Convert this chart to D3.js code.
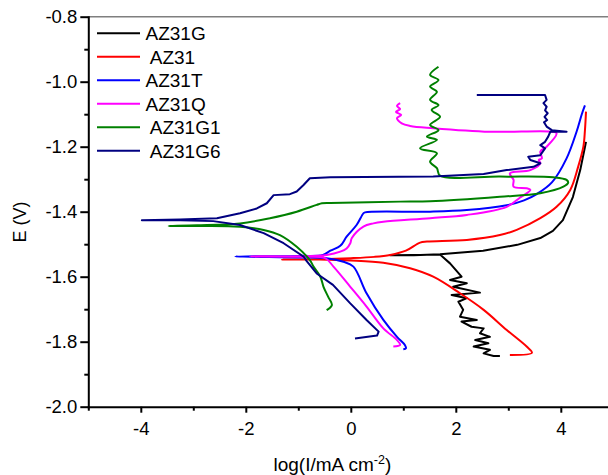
<!DOCTYPE html>
<meta charset="utf-8">
<style>
body { margin: 0; background: #fff; font-family: Arial, "Liberation Sans", sans-serif; }
.axis path, .axis line { stroke: #000; stroke-width: 2; }
.axis path { stroke-linecap: square; }
.axis text { font-family: Arial, "Liberation Sans", sans-serif; font-size: 18.5px; fill: #000; }
.curve { fill: none; stroke-width: 2; stroke-linejoin: round; }
.legend text { font-size: 19px; fill: #000; white-space: pre; }
</style>
<body>
<svg id="tafel" width="608" height="475"></svg>

<script src="https://d3js.org/d3.v7.min.js"></script>
<script>

// series names, in legend order (leading spaces as in the original legend)
var seriesNames = ["AZ31G", " AZ31", "AZ31T", "AZ31Q", " AZ31G1", " AZ31G6"];
var seriesColors = ["#000000", "#ff0000", "#0000ff", "#ff00ff", "#008000", "#000080"];

// [log(I), E], in scan order (cathodic -> Ecorr -> anodic)
var az31g = [
  [2.84,-1.844],[2.72,-1.844],[2.53,-1.836],[2.65,-1.825],[2.34,-1.815],[2.62,-1.805],
  [2.37,-1.795],[2.65,-1.785],[2.46,-1.774],[2.53,-1.759],[2.30,-1.754],[2.11,-1.738],
  [2.40,-1.733],[2.08,-1.723],[2.14,-1.702],[2.05,-1.677],[2.21,-1.666],[1.92,-1.656],
  [2.46,-1.649],[1.95,-1.631],[2.21,-1.620],[1.89,-1.610],[2.11,-1.600],[1.89,-1.559],
  [1.70,-1.532],[1.20,-1.533],[0.75,-1.534],[1.20,-1.534],[1.70,-1.531],[2.52,-1.520],
  [3.17,-1.502],[3.61,-1.481],[3.85,-1.459],[4.04,-1.426],[4.23,-1.355],[4.37,-1.272],
  [4.46,-1.201],[4.48,-1.185]
];
var az31 = [
  [3.03,-1.841],[3.45,-1.834],[3.35,-1.815],[2.97,-1.764],[2.53,-1.702],[2.08,-1.651],
  [1.57,-1.600],[1.13,-1.574],[0.62,-1.557],[0.00,-1.550],[-0.60,-1.547],[-1.31,-1.547],
  [-0.60,-1.546],[0.00,-1.543],[0.45,-1.539],[0.75,-1.533],[1.05,-1.520],[1.32,-1.495],
  [1.45,-1.492],[2.21,-1.487],[2.84,-1.472],[3.16,-1.456],[3.61,-1.420],[3.92,-1.385],
  [4.18,-1.333],[4.33,-1.262],[4.43,-1.200],[4.46,-1.149],[4.48,-1.092]
];
var az31t = [
  [1.00,-1.823],[1.05,-1.820],[1.03,-1.810],[0.88,-1.785],[0.62,-1.733],[0.30,-1.651],
  [0.05,-1.569],[-0.14,-1.554],[-0.46,-1.543],[-0.97,-1.541],[-2.20,-1.538],[-0.97,-1.536],
  [-0.53,-1.533],[-0.39,-1.520],[-0.20,-1.505],[-0.08,-1.477],[0.11,-1.441],[0.24,-1.405],
  [0.27,-1.402],[1.51,-1.400],[2.21,-1.395],[2.97,-1.380],[3.30,-1.365],[3.55,-1.345],
  [3.83,-1.310],[4.11,-1.236],[4.30,-1.154],[4.40,-1.100],[4.46,-1.073]
];
var az31q = [
  [0.81,-1.815],[0.94,-1.810],[0.88,-1.795],[0.62,-1.759],[0.30,-1.692],[-0.01,-1.631],
  [-0.33,-1.569],[-0.49,-1.543],[-0.97,-1.539],[-1.92,-1.538],[-0.97,-1.537],[-0.46,-1.533],
  [-0.20,-1.523],[-0.08,-1.513],[-0.01,-1.497],[0.02,-1.481],[0.24,-1.446],[0.43,-1.436],
  [0.62,-1.431],[1.51,-1.420],[2.21,-1.410],[2.97,-1.385],[3.22,-1.357],[3.42,-1.333],
  [3.35,-1.328],[3.10,-1.323],[3.10,-1.302],[3.03,-1.282],[3.42,-1.272],[3.61,-1.251],
  [3.58,-1.241],[3.64,-1.236],[3.61,-1.215],[3.73,-1.200],[3.92,-1.159],[3.86,-1.154],
  [2.65,-1.154],[1.57,-1.143],[1.13,-1.136],[0.97,-1.128],[0.88,-1.112],[0.96,-1.102],
  [0.86,-1.093],[0.94,-1.084],[0.88,-1.075],[0.94,-1.066]
];
var az31g1 = [
  [-0.46,-1.703],[-0.36,-1.687],[-0.43,-1.662],[-0.52,-1.631],[-0.58,-1.600],[-0.71,-1.569],
  [-0.78,-1.549],[-1.03,-1.508],[-1.35,-1.472],[-1.66,-1.456],[-2.11,-1.446],[-2.93,-1.444],
  [-3.47,-1.444],[-2.93,-1.442],[-2.11,-1.436],[-1.54,-1.420],[-1.03,-1.400],[-0.65,-1.379],
  [-0.55,-1.374],[-0.39,-1.373],[0.94,-1.369],[1.51,-1.368],[2.84,-1.354],[3.61,-1.343],
  [4.05,-1.323],[4.14,-1.311],[4.11,-1.302],[3.86,-1.294],[2.84,-1.292],[1.70,-1.289],
  [1.64,-1.266],[1.51,-1.246],[1.64,-1.220],[1.32,-1.205],[1.64,-1.179],[1.45,-1.169],
  [1.67,-1.149],[1.51,-1.133],[1.70,-1.108],[1.54,-1.087],[1.67,-1.072],[1.51,-1.056],
  [1.64,-1.031],[1.51,-1.015],[1.67,-0.995],[1.51,-0.979],[1.67,-0.954]
];
var az31g6 = [
  [0.08,-1.790],[0.50,-1.781],[0.53,-1.769],[0.30,-1.733],[-0.01,-1.682],[-0.34,-1.625],
  [-0.65,-1.590],[-0.84,-1.552],[-0.90,-1.538],[-1.28,-1.497],[-1.66,-1.466],[-2.11,-1.441],
  [-2.62,-1.429],[-3.25,-1.426],[-3.98,-1.426],[-3.25,-1.424],[-2.55,-1.420],[-2.11,-1.405],
  [-1.79,-1.390],[-1.60,-1.374],[-1.47,-1.349],[-1.16,-1.346],[-1.03,-1.338],[-0.90,-1.318],
  [-0.78,-1.297],[-0.39,-1.294],[1.57,-1.292],[2.53,-1.284],[2.97,-1.272],[3.48,-1.262],
  [3.61,-1.251],[3.42,-1.241],[3.38,-1.231],[3.61,-1.226],[3.70,-1.205],[3.61,-1.195],
  [3.70,-1.185],[3.76,-1.169],[3.80,-1.154],[4.11,-1.154],[3.83,-1.149],[3.73,-1.138],
  [3.68,-1.125],[3.74,-1.118],[3.69,-1.108],[3.75,-1.097],[3.70,-1.088],[3.73,-1.077],
  [3.67,-1.066],[3.73,-1.056],[3.70,-1.041],[2.40,-1.041]
];
var seriesData = [az31g, az31, az31t, az31q, az31g1, az31g6];

var yTicks = [-2.0, -1.8, -1.6, -1.4, -1.2, -1.0, -0.8];
var yMinor = [-1.9, -1.7, -1.5, -1.3, -1.1, -0.9];
var xTicks = [-4, -2, 0, 2, 4];
var xMinor = [-5, -3, -1, 1, 3];

var svg = d3.select("#tafel"),
    margin = {top: 16.7, left: 88.3},
    plotW = 525,
    plotH = 390;

var x = d3.scaleLinear()
    .domain([-5, 5])
    .range([margin.left, margin.left + plotW]);
var y = d3.scaleLinear()
    .domain([-2.0, -0.8])
    .range([margin.top + plotH, margin.top]);

// grey top frame
svg.append("line")
    .attr("x1", x(-5)).attr("x2", x(5))
    .attr("y1", y(-0.8)).attr("y2", y(-0.8))
    .attr("stroke", "#7f7f7f")
    .attr("stroke-width", 1.6);

// minor ticks
svg.append("g")
    .attr("class", "axis")
    .attr("transform", "translate(" + x(-5) + ",0)")
    .call(d3.axisLeft(y).tickValues(yMinor).tickSize(4).tickFormat(""))
    .select(".domain").remove();
svg.append("g")
    .attr("class", "axis")
    .attr("transform", "translate(0," + y(-2.0) + ")")
    .call(d3.axisBottom(x).tickValues(xMinor).tickSize(4).tickFormat(""))
    .select(".domain").remove();

// major axes
svg.append("g")
    .attr("class", "axis")
    .attr("transform", "translate(" + x(-5) + ",0)")
    .call(d3.axisLeft(y).tickValues(yTicks).tickSize(8).tickPadding(3).tickSizeOuter(0)
        .tickFormat(function(d) { return d.toFixed(1); }));
svg.append("g")
    .attr("class", "axis")
    .attr("transform", "translate(0," + y(-2.0) + ")")
    .call(d3.axisBottom(x).tickValues(xTicks).tickSize(6).tickPadding(9).tickSizeOuter(0)
        .tickFormat(function(d) { return String(d); }));

// curves: noisy / sharp-cornered traces (AZ31G, AZ31G6) stay linear, the rest are smoothed
var lineSharp = d3.line()
    .x(function(d) { return x(d[0]); })
    .y(function(d) { return y(d[1]); });
var lineSmooth = d3.line()
    .curve(d3.curveCatmullRom.alpha(0.5))
    .x(function(d) { return x(d[0]); })
    .y(function(d) { return y(d[1]); });

svg.selectAll("path.curve")
    .data(seriesData)
    .enter().append("path")
    .attr("class", "curve")
    .attr("d", function(d, i) { return (i === 0 || i === 5) ? lineSharp(d) : lineSmooth(d); })
    .attr("stroke", function(d, i) { return seriesColors[i]; });

// legend
var legend = svg.append("g").attr("class", "legend");
var rows = legend.selectAll("g")
    .data(seriesNames)
    .enter().append("g")
    .attr("transform", function(d, i) { return "translate(97," + (33.3 + i * 23.5) + ")"; });
rows.append("line")
    .attr("x1", 0).attr("x2", 43)
    .attr("stroke", function(d, i) { return seriesColors[i]; })
    .attr("stroke-width", 2);
rows.append("text")
    .attr("x", 48.5)
    .attr("y", 7)
    .text(function(d) { return d; });

// axis titles
svg.append("text")
    .attr("transform", "translate(26,222) rotate(-90)")
    .attr("text-anchor", "middle")
    .style("font-size", "18px")
    .text("E (V)");

var xt = svg.append("text")
    .attr("x", 273.5)
    .attr("y", 470.5)
    .style("font-size", "19px");
xt.append("tspan").text("log(I/mA cm");
xt.append("tspan").attr("dy", -7).style("font-size", "12.5px").text("-2");
xt.append("tspan").attr("dy", 7).text(")");

</script>
</body>
